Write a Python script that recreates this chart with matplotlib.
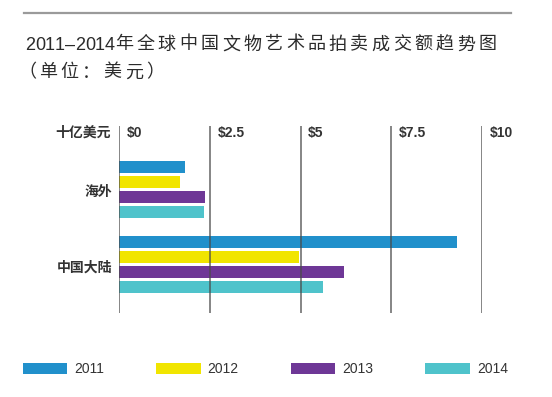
import numpy as np
import matplotlib
matplotlib.use("Agg")
import matplotlib.pyplot as plt
from matplotlib.lines import Line2D
from matplotlib.font_manager import FontProperties, findfont, get_font

plt.rcParams['font.family'] = ['Liberation Sans', 'Noto Sans CJK SC', 'DejaVu Sans']

title = "2011–2014年全球中国文物艺术品拍卖成交额趋势图"
subtitle = "（单位：美元）"
unit_label = "十亿美元"
regions = ["海外", "中国大陆"]
years = ["2011", "2012", "2013", "2014"]
# billions of USD, per year, [海外, 中国大陆]
sales = {
    "2011": [1.81, 9.33],
    "2012": [1.68, 4.96],
    "2013": [2.36, 6.20],
    "2014": [2.34, 5.61],
}
ticks = [0, 2.5, 5, 7.5, 10]
tick_labels = ["$0", "$2.5", "$5", "$7.5", "$10"]
colors = ["#2190cb", "#f1e500", "#6e3796", "#4fc3cb"]

W, H, DPI = 552, 397, 100
fig = plt.figure(figsize=(W / DPI, H / DPI), dpi=DPI)
fig.patch.set_facecolor("white")

text_color = "#333333"


def px(x, y):
    # pixel position (from top-left) -> figure fraction
    return x / W, 1 - y / H


def tracked_text(x, y, s, size, color, cjk_track, latin_track):
    """draw a string char by char with letter spacing (pixels)"""
    latin = FontProperties(family="Liberation Sans", size=size)
    cjk = FontProperties(family="Noto Sans CJK SC", size=size)
    for c in s:
        prop = cjk if ord(c) >= 0x2E80 else latin
        font = get_font(findfont(prop))
        font.set_size(size, DPI)
        adv = font.load_char(ord(c)).linearHoriAdvance / 65536.0
        fx, fy = px(x, y)
        fig.text(fx, fy, c, fontproperties=prop, color=color,
                 ha="left", va="baseline")
        x += adv + (cjk_track if prop is cjk else latin_track)


# top rule
fig.add_artist(Line2D([24 / W, 511 / W], [1 - 13 / H, 1 - 13 / H],
                      color="#9a9a9a", lw=1.6, transform=fig.transFigure))

tracked_text(25, 49.5, title, 13, "#2b2b2b", 3.3, 0.0)
tracked_text(18, 77.5, subtitle, 13, "#2b2b2b", 3.3, 0.0)

# plot area
ax_l, ax_r, ax_t, ax_b = 119.3, 481.7, 126, 313
ax = fig.add_axes([ax_l / W, 1 - ax_b / H, (ax_r - ax_l) / W, (ax_b - ax_t) / H])
ax.set_xlim(0, 10)
px_per_unit = 75.0
group_top = (189 - ax_t) / px_per_unit
ax.set_ylim((ax_b - ax_t) / px_per_unit - group_top, -group_top)

centers = np.arange(len(regions))
step = 0.2
bar_h = 0.16
handles = []
for k, yr in enumerate(years):
    b = ax.barh(centers + (k - 1.5) * step, sales[yr], height=bar_h,
                color=colors[k], label=yr, zorder=2)
    handles.append(b)

ax.vlines(ticks, *ax.get_ylim(), color="#4a4a4a", lw=1.1, alpha=0.85, zorder=3)

label_y = 1 - 7 / (ax_b - ax_t)
for t, lab in zip(ticks, tick_labels):
    ax.annotate(lab, xy=(t, label_y), xycoords=("data", "axes fraction"),
                xytext=(5.5, 0), textcoords="offset points", ha="left",
                va="center", fontsize=10, fontweight="bold", color=text_color,
                annotation_clip=False)

ax.annotate(unit_label, xy=(0, label_y), xycoords="axes fraction",
            xytext=(-6, 0), textcoords="offset points", ha="right", va="center",
            fontsize=10, fontweight="bold", color=text_color,
            family=["Noto Sans CJK SC"])

ax.set_yticks(centers + 0.025)
ax.set_yticklabels(regions, fontsize=10, fontweight="bold", color=text_color,
                   family=["Noto Sans CJK SC"])
ax.tick_params(axis="y", length=0, pad=5)
ax.set_xticks([])
for sp in ax.spines.values():
    sp.set_visible(False)
ax.patch.set_alpha(0)

leg = fig.legend(handles=handles, labels=years, loc="center left",
                 bbox_to_anchor=px(23, 369), ncol=4, frameon=False,
                 fontsize=10, handlelength=3.2, handleheight=0.85,
                 handletextpad=0.5, columnspacing=3.75, borderpad=0,
                 borderaxespad=0)
for t in leg.get_texts():
    t.set_color(text_color)

fig.savefig("out.png", dpi=DPI)
